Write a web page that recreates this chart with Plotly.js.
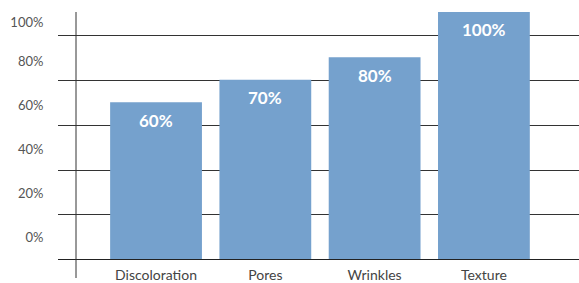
<!DOCTYPE html>
<html>
<head>
<meta charset="utf-8">
<script src="https://cdn.plot.ly/plotly-3.0.1.min.js"></script>
<style>html,body{margin:0;padding:0;background:#fff;}#chart{width:579px;height:283px;}</style>
</head>
<body>
<div id="chart"></div>
<script>
// Data
var categories = ["Discoloration", "Pores", "Wrinkles", "Texture"];
var values = [60, 70, 80, 100];
var valueLabels = ["60%", "70%", "80%", "100%"];
var tickLabels = ["0%", "20%", "40%", "60%", "80%", "100%"];

// Styling / positions (the source graphic places its grid and labels off the value scale)
var BASE = -9.4;
var gridPos = [10.2, 29.9, 49.7, 69.6, 89.6];
var labelPos = [0, 19.5, 39.3, 58.8, 78.2, 95.5];
var barColor = "#75A1CD";
var fontFam = "Lato, 'Open Sans', sans-serif";

var bar = {
  type: "bar",
  x: categories,
  y: values.map(function(v){ return v - BASE; }),
  base: BASE,
  marker: {color: barColor, line: {width: 0}},
  width: 0.84,
  hoverinfo: "skip"
};
var dummy = {
  type: "scatter", x: [categories[0]], y: [0], yaxis: "y2",
  mode: "markers", marker: {opacity: 0}, hoverinfo: "skip", showlegend: false
};

var annotations = categories.map(function(c, i){
  return {
    x: c, y: values[i], xref: "x", yref: "y",
    text: valueLabels[i], showarrow: false,
    yanchor: "middle", yshift: -18,
    font: {family: fontFam, size: 17, color: "#ffffff", weight: 700}
  };
});

var layout = {
  width: 579, height: 283,
  margin: {l: 58, r: 0, t: 0, b: 24},
  paper_bgcolor: "#ffffff", plot_bgcolor: "#ffffff",
  showlegend: false,
  xaxis: {
    type: "category",
    range: [-0.897, 3.87],
    showgrid: false, zeroline: false,
    showline: true, linecolor: "#222222", linewidth: 1,
    ticks: "outside", ticklen: 3, tickcolor: "rgba(0,0,0,0)",
    tickfont: {family: fontFam, size: 14, color: "#444444"},
    fixedrange: true
  },
  yaxis: {
    range: [BASE, 105.3],
    tickvals: gridPos,
    showticklabels: false,
    showgrid: true, gridcolor: "#333333", gridwidth: 1,
    zeroline: false, showline: false, ticks: "",
    fixedrange: true
  },
  yaxis2: {
    overlaying: "y", side: "left",
    range: [BASE, 105.3],
    tickvals: labelPos, ticktext: tickLabels,
    showgrid: false, zeroline: false, showline: false,
    ticks: "outside", ticklen: 11, tickcolor: "rgba(0,0,0,0)",
    tickfont: {family: fontFam, size: 13, color: "#555555"},
    fixedrange: true
  },
  shapes: [{
    type: "line", xref: "paper", yref: "paper",
    x0: 18/521, x1: 18/521, y0: -19/259, y1: 247/259,
    line: {color: "#333333", width: 1}
  }],
  annotations: annotations,
  bargap: 0.16
};

Plotly.newPlot("chart", [bar, dummy], layout, {displayModeBar: false, staticPlot: true});
</script>
</body>
</html>
